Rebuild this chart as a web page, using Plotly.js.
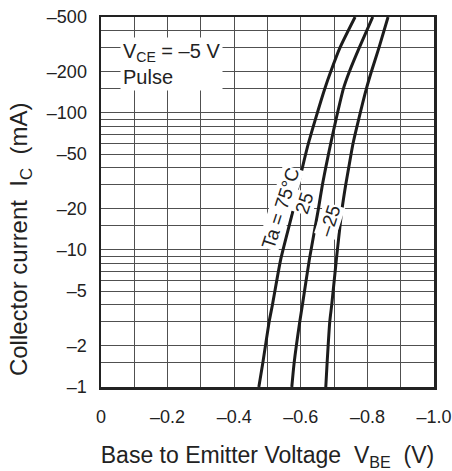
<!DOCTYPE html>
<html>
<head>
<meta charset="utf-8">
<script src="https://cdn.plot.ly/plotly-3.0.1.min.js"></script>
<style>html,body{margin:0;padding:0;background:#fff}#chart{width:452px;height:471px}</style>
</head>
<body>
<div id="chart"></div>
<script>
// Collector current magnitude |Ic| (mA) sample points (shown as negative values on the chart)
var icPoints = [1, 1.5, 3, 4, 8.6, 20, 30, 40, 60, 90, 150, 200, 300, 500];
// Base-to-emitter voltage VBE (V) for each ambient temperature
var vbeTa75  = [-0.474, -0.486, -0.505, -0.515, -0.540, -0.578, -0.593, -0.605, -0.623, -0.644, -0.672, -0.690, -0.718, -0.763];
var vbeTa25  = [-0.573, -0.580, -0.597, -0.605, -0.626, -0.653, -0.665, -0.675, -0.690, -0.706, -0.728, -0.746, -0.776, -0.816];
var vbeTaM25 = [-0.675, -0.679, -0.687, -0.693, -0.707, -0.724, -0.735, -0.744, -0.757, -0.774, -0.797, -0.812, -0.835, -0.862];

// Axis ticks / grid
var xTickVals = [0, -0.2, -0.4, -0.6, -0.8, -1.0];
var xTickText = ["0", "\u20130.2", "\u20130.4", "\u20130.6", "\u20130.8", "\u20131.0"];
var xMinorGrid = [-0.1, -0.3, -0.5, -0.7, -0.9];
var yTickVals = [1, 2, 5, 10, 20, 50, 100, 200, 500];
var yTickText = ["\u20131", "\u20132", "\u20135", "\u201310", "\u201320", "\u201350", "\u2013100", "\u2013200", "\u2013500"];
var yMinorGrid = [1.5, 3, 4, 6, 7, 8, 9, 15, 30, 40, 60, 70, 80, 90, 150, 300, 400];

var lineStyle = {color: "#1c1c1c", width: 3, shape: "spline", smoothing: 0.6};
var traces = [
  {x: vbeTa75, y: icPoints, mode: "lines", line: lineStyle, name: "Ta = 75\u00b0C", hoverinfo: "x+y"},
  {x: vbeTa25, y: icPoints, mode: "lines", line: lineStyle, name: "25", hoverinfo: "x+y"},
  {x: vbeTaM25, y: icPoints, mode: "lines", line: lineStyle, name: "\u201325", hoverinfo: "x+y"}
];

var font = "Liberation Sans, Arial, Helvetica, sans-serif";
var gridCol = "#505050";
var layout = {
  width: 452, height: 471,
  margin: {l: 101, r: 18, t: 17, b: 84},
  paper_bgcolor: "#fff", plot_bgcolor: "#fff",
  showlegend: false,
  font: {family: font, color: "#222", size: 18},
  xaxis: {
    range: [0, -1], tickmode: "array", tickvals: xTickVals, ticktext: xTickText,
    showgrid: true, gridcolor: gridCol, gridwidth: 1, zeroline: false,
    minor: {tickmode: "array", tickvals: xMinorGrid, showgrid: true, gridcolor: gridCol, gridwidth: 1, ticks: ""},
    ticks: "outside", ticklen: 12, tickcolor: "rgba(0,0,0,0)",
    showline: true, mirror: true, linecolor: "#222", linewidth: 2.5,
    tickfont: {size: 18, color: "#222"},
    title: {text: "Base to Emitter Voltage\u00a0\u00a0V<sub>BE</sub>\u00a0\u00a0(V)", font: {size: 23, color: "#222"}, standoff: 23},
    fixedrange: true
  },
  yaxis: {
    type: "log", range: [0, Math.log10(500)], tickmode: "array", tickvals: yTickVals, ticktext: yTickText,
    showgrid: true, gridcolor: gridCol, gridwidth: 1, zeroline: false,
    minor: {tickmode: "array", tickvals: yMinorGrid, showgrid: true, gridcolor: gridCol, gridwidth: 1, ticks: ""},
    ticks: "outside", ticklen: 8, tickcolor: "rgba(0,0,0,0)",
    showline: true, mirror: true, linecolor: "#222", linewidth: 2.5,
    tickfont: {size: 18, color: "#222"},
    fixedrange: true
  },
  annotations: [
    {xref: "paper", yref: "paper", x: -0.243, y: 0.40, xanchor: "center", yanchor: "middle",
     text: "Collector current\u00a0\u00a0I<sub>C</sub>\u00a0\u00a0(mA)", textangle: -90, showarrow: false,
     font: {size: 24, color: "#222"}},
    {xref: "paper", yref: "paper", x: 0.057, y: 0.946, xanchor: "left", yanchor: "top", align: "left",
     text: "V<sub>CE</sub> = \u20135 V<br>Pulse", showarrow: false, bgcolor: "#fff", borderpad: 2,
     font: {size: 20, color: "#222"}},
    {xref: "x", yref: "y", x: -0.538, y: Math.log10(20.2), text: "Ta = 75\u00b0C", textangle: -72,
     showarrow: false, bgcolor: "#fff", borderpad: 0, font: {size: 19, color: "#222"}},
    {xref: "x", yref: "y", x: -0.610, y: Math.log10(21.8), text: "25", textangle: -72,
     showarrow: false, bgcolor: "#fff", borderpad: 0, font: {size: 19, color: "#222"}},
    {xref: "x", yref: "y", x: -0.686, y: Math.log10(16.5), text: "\u201325", textangle: -72,
     showarrow: false, bgcolor: "#fff", borderpad: 0, font: {size: 19, color: "#222"}}
  ]
};

Plotly.newPlot("chart", traces, layout, {displayModeBar: false, staticPlot: true});
</script>
</body>
</html>
